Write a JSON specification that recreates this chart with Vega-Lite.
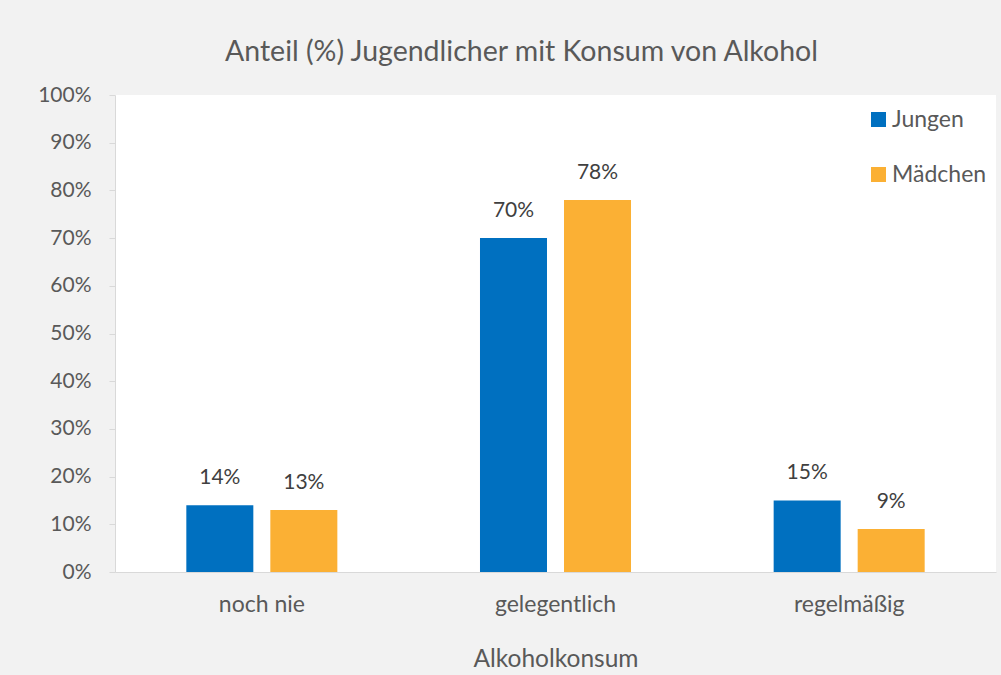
{
  "$schema": "https://vega.github.io/schema/vega-lite/v6.json",
  "width": 881,
  "height": 477,
  "autosize": {"type": "none"},
  "padding": {"left": 115, "top": 95, "right": 5, "bottom": 103},
  "background": "#f2f2f2",
  "title": {
    "text": "Anteil (%) Jugendlicher mit Konsum von Alkohol",
    "font": "Lato",
    "fontSize": 28.5,
    "fontWeight": "normal",
    "color": "#595959",
    "anchor": "middle",
    "dx": -34,
    "dy": 37,
    "offset": 32,
    "baseline": "alphabetic"
  },
  "data": {
    "values": [
      {"kategorie": "noch nie", "gruppe": "Jungen", "anteil": 0.14},
      {"kategorie": "noch nie", "gruppe": "Mädchen", "anteil": 0.13},
      {"kategorie": "gelegentlich", "gruppe": "Jungen", "anteil": 0.70},
      {"kategorie": "gelegentlich", "gruppe": "Mädchen", "anteil": 0.78},
      {"kategorie": "regelmäßig", "gruppe": "Jungen", "anteil": 0.15},
      {"kategorie": "regelmäßig", "gruppe": "Mädchen", "anteil": 0.09}
    ]
  },
  "encoding": {
    "x": {
      "field": "kategorie",
      "type": "nominal",
      "sort": ["noch nie", "gelegentlich", "regelmäßig"],
      "scale": {"paddingInner": 0, "paddingOuter": 0},
      "axis": {
        "title": "Alkoholkonsum",
        "labelAngle": 0,
        "ticks": false,
        "labelFontSize": 23,
        "labelPadding": 21,
        "titlePadding": 31,
        "titleFontSize": 24.5,
        "titleFontWeight": "normal"
      }
    },
    "xOffset": {
      "field": "gruppe",
      "type": "nominal",
      "sort": ["Jungen", "Mädchen"],
      "scale": {"paddingInner": 0.2024, "paddingOuter": 0.849}
    },
    "y": {
      "field": "anteil",
      "type": "quantitative",
      "scale": {"domain": [0, 1]},
      "axis": {
        "title": null,
        "format": ".0%",
        "values": [0, 0.1, 0.2, 0.3, 0.4, 0.5, 0.6, 0.7, 0.8, 0.9, 1],
        "grid": false,
        "tickSize": 6,
        "labelPadding": 18
      }
    }
  },
  "layer": [
    {
      "mark": {"type": "bar"},
      "encoding": {
        "color": {
          "field": "gruppe",
          "type": "nominal",
          "sort": ["Jungen", "Mädchen"],
          "scale": {"domain": ["Jungen", "Mädchen"], "range": ["#0070c0", "#fbb034"]},
          "legend": {
            "title": null,
            "orient": "none",
            "legendX": 752,
            "legendY": 13,
            "symbolType": "square",
            "symbolSize": 225,
            "symbolStrokeWidth": 0,
            "labelFont": "Lato",
            "labelFontSize": 23,
            "labelColor": "#595959",
            "labelOffset": 2,
            "rowPadding": 31,
            "padding": 0
          }
        }
      }
    },
    {
      "mark": {
        "type": "text",
        "baseline": "alphabetic",
        "dy": -21,
        "font": "Lato",
        "fontSize": 21,
        "color": "#404040"
      },
      "encoding": {
        "text": {"field": "anteil", "type": "quantitative", "format": ".0%"}
      }
    }
  ],
  "config": {
    "view": {"fill": "white", "stroke": null},
    "axis": {
      "domainColor": "#d9d9d9",
      "tickColor": "#d9d9d9",
      "labelFont": "Lato",
      "labelFontSize": 21,
      "labelColor": "#595959",
      "titleFont": "Lato",
      "titleColor": "#595959"
    }
  }
}
